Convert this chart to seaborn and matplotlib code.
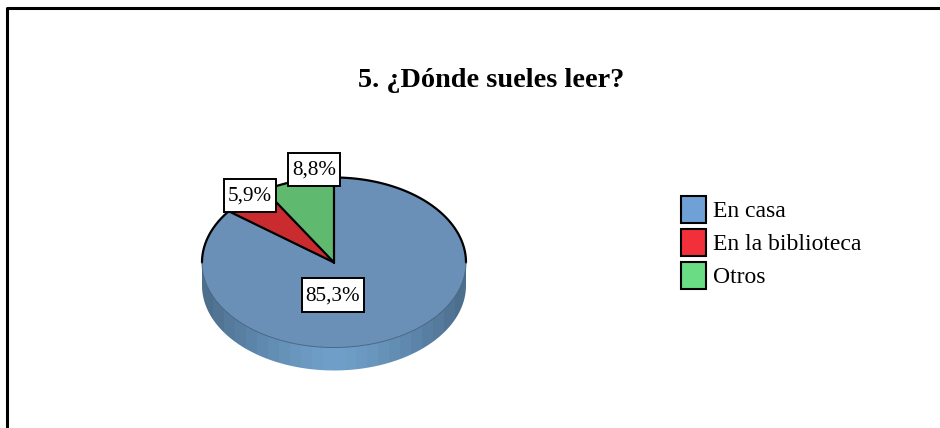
import numpy as np
import seaborn as sns
import matplotlib.pyplot as plt
from matplotlib.patches import Patch, Polygon, Rectangle

labels = ["En casa", "En la biblioteca", "Otros"]
values = [85.3, 5.9, 8.8]
value_labels = ["85,3%", "5,9%", "8,8%"]
pie_colors = ["#6a90b8", "#c92b2f", "#5fba70"]
legend_colors = ["#6fa0d6", "#f2303a", "#6adc84"]

W, H = 940, 428
cx, cy = 334, 262.5
rx, ry = 132, 85
depth = 23 / ry

sns.set_theme(style="white")
plt.rcParams["font.family"] = ["Liberation Serif", "DejaVu Serif"]

fig = plt.figure(figsize=(W / 100, H / 100), dpi=100, facecolor="white")

# frame of the picture, only left and top are inside the image
bg = fig.add_axes([0, 0, 1, 1])
bg.set_xlim(0, W)
bg.set_ylim(H, 0)
bg.axis("off")
bg.set_zorder(3)
bg.patch.set_alpha(0)
bg.plot([7, 7, W], [H, 8, 8], color="black", lw=2.2, solid_capstyle="butt")
bg.text(491, 80, "5. ¿Dónde sueles leer?", ha="center", va="center",
        fontsize=20.3, fontweight="bold", color="black")

# pie axes, stretched so one data unit is rx wide and ry high
ax = fig.add_axes([(cx - 1.25 * rx) / W, 1 - (cy + 1.6 * ry) / H, 2.5 * rx / W, 2.85 * ry / H])
wedges, _ = ax.pie(values, colors=pie_colors, startangle=90, counterclock=False,
                   radius=1, wedgeprops={"edgecolor": "none", "linewidth": 0})

# side wall of the 3d pie, shaded in strips
t = np.linspace(np.pi, 2 * np.pi, 120)
wall = np.concatenate([
    np.column_stack([np.cos(t), np.sin(t) - depth]),
    np.column_stack([np.cos(t[::-1]), np.sin(t[::-1])]),
])
clip = Polygon(wall, closed=True, transform=ax.transData, facecolor="none", edgecolor="none")
ax.add_patch(clip)
strips = 1 - np.abs(np.linspace(-1, 1, 24)) ** 1.4
shade = sns.blend_palette(["#4d6f8e", "#6f9fc8"], n_colors=64, as_cmap=True)
im = ax.imshow(strips[np.newaxis, :], cmap=shade, extent=(-1, 1, -1.5, 0),
               aspect="auto", zorder=0.5, interpolation="nearest")
im.set_clip_path(clip)

# black outline only on the upper rim and the slice borders
top = np.linspace(0, np.pi, 120)
ax.plot(np.cos(top), np.sin(top), color="black", lw=1.6, zorder=3)
low = np.linspace(np.pi, 2 * np.pi, 120)
ax.plot(np.cos(low), np.sin(low), color="#3f5d7a", lw=0.6, zorder=3)
ang = np.deg2rad(90 - 360 * np.cumsum([0] + values[:-1]) / sum(values))
for a in ang:
    ax.plot([0, np.cos(a)], [0, np.sin(a)], color="black", lw=1.6, zorder=3)

ax.set_aspect("auto")
ax.set_xlim(-1.25, 1.25)
ax.set_ylim(-1.6, 1.25)

# value labels in white boxes
label_boxes = [(302, 278, 62, 34), (224, 179, 52, 33), (288, 153, 52, 33)]
for (x0, y0, bw, bh), txt in zip(label_boxes, value_labels):
    bg.add_patch(Rectangle((x0, y0), bw, bh, facecolor="white", edgecolor="black", lw=1.4, zorder=4))
    bg.text(x0 + bw / 2, y0 + bh / 2 + 1, txt, ha="center", va="center", fontsize=15.2,
            color="black", zorder=5)

handles = [Patch(facecolor=c, edgecolor="black", linewidth=1.5) for c in legend_colors]
leg = bg.legend(handles, labels, loc="upper left", bbox_to_anchor=(681 / W, 1 - 196 / H),
                frameon=False, fontsize=17, handlelength=1.05, handleheight=1.38,
                handletextpad=0.3, labelspacing=0.25, borderpad=0, borderaxespad=0,
                labelcolor="black")

fig.savefig("out.png", dpi=100)
